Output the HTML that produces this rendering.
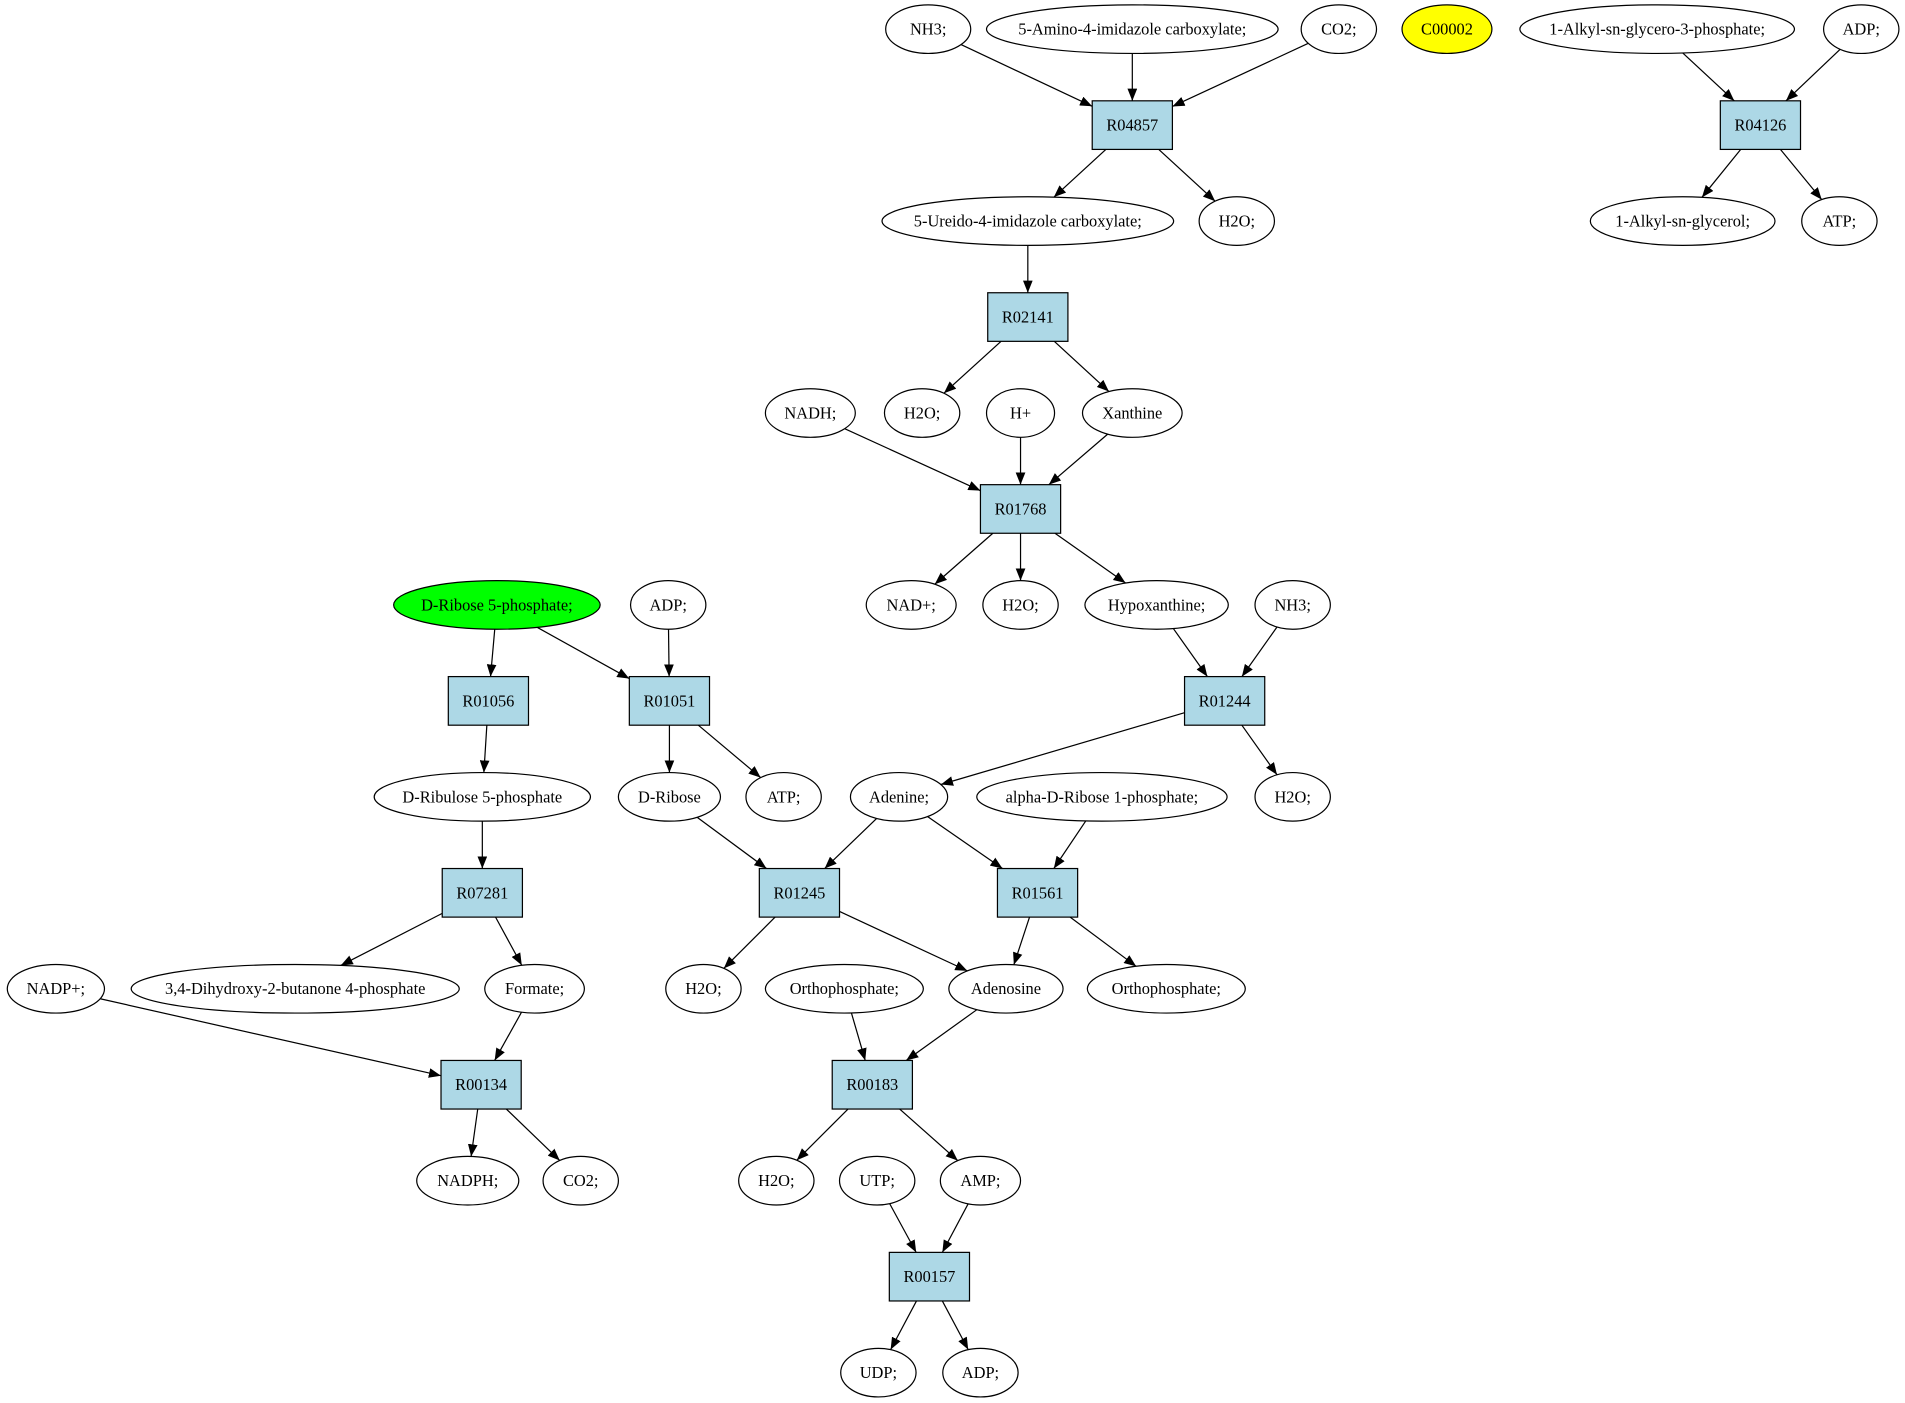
<!DOCTYPE html>
<html><head><meta charset="utf-8"><style>
html,body{margin:0;padding:0;background:#fff;}
svg{display:block;}
text{font-family:"Liberation Serif",serif;font-size:13.5px;}
</style></head><body>
<svg id="g" width="1905" height="1403" viewBox="0 0 1568 1155" preserveAspectRatio="none" xmlns="http://www.w3.org/2000/svg">
<defs><marker id="a" markerWidth="10" markerHeight="8" refX="10" refY="4" orient="auto" markerUnits="userSpaceOnUse"><path d="M0,0 L10,4 L0,8 z" fill="#000"/></marker></defs>
</svg>
<script>
var N={
nh3a:['e',764,24,35,'NH3;'],amino:['e',932,24,120,'5-Amino-4-imidazole carboxylate;'],co2a:['e',1102,24,31,'CO2;'],c2:['e',1191,24,37,'C00002','#ffff00'],
alk3p:['e',1364,24,113,'1-Alkyl-sn-glycero-3-phosphate;'],adp1:['e',1532,24,31,'ADP;'],
R04857:['b',932,103],R04126:['b',1449,103],
ureido:['e',846,182,120,'5-Ureido-4-imidazole carboxylate;'],h2o1:['e',1018,182,31,'H2O;'],alkg:['e',1385,182,76,'1-Alkyl-sn-glycerol;'],atp1:['e',1514,182,31,'ATP;'],
R02141:['b',846,261],
nadh:['e',667,340,37,'NADH;'],h2o2:['e',759,340,31,'H2O;'],hp:['e',840,340,28,'H+'],xan:['e',932,340,41,'Xanthine'],
R01768:['b',840,419],
dr5p:['e',409,498,85,'D-Ribose 5-phosphate;','#00ff00'],adp2:['e',550,498,31,'ADP;'],nad:['e',750,498,37,'NAD+;'],h2o3:['e',840,498,31,'H2O;'],hyp:['e',952,498,59,'Hypoxanthine;'],nh3b:['e',1064,498,31,'NH3;'],
R01056:['b',402,577],R01051:['b',551,577],R01244:['b',1008,577],
dru5p:['e',397,656,89,'D-Ribulose 5-phosphate'],drib:['e',551,656,42,'D-Ribose'],atp2:['e',645,656,31,'ATP;'],ade:['e',740,656,40,'Adenine;'],adr1p:['e',907,656,103,'alpha-D-Ribose 1-phosphate;'],h2o4:['e',1064,656,31,'H2O;'],
R07281:['b',397,735],R01245:['b',658,735],R01561:['b',854,735],
nadp:['e',46,814,40,'NADP+;'],dhb:['e',243,814,135,'3,4-Dihydroxy-2-butanone 4-phosphate'],form:['e',440,814,41,'Formate;'],h2o5:['e',579,814,31,'H2O;'],orth1:['e',695,814,65,'Orthophosphate;'],adeno:['e',828,814,47,'Adenosine'],orth2:['e',960,814,65,'Orthophosphate;'],
R00134:['b',396,893],R00183:['b',718,893],
nadph:['e',385,972,42,'NADPH;'],co2b:['e',478,972,31,'CO2;'],h2o6:['e',639,972,31,'H2O;'],utp:['e',722,972,31,'UTP;'],amp:['e',807,972,33,'AMP;'],
R00157:['b',765,1051],
udp:['e',723,1130,31,'UDP;'],adp3:['e',807,1130,31,'ADP;']};
var E=[['nh3a','R04857'],['amino','R04857'],['co2a','R04857'],['R04857','ureido'],['R04857','h2o1'],['alk3p','R04126'],['adp1','R04126'],['R04126','alkg'],['R04126','atp1'],
['ureido','R02141'],['R02141','h2o2'],['R02141','xan'],['nadh','R01768'],['hp','R01768'],['xan','R01768'],['R01768','nad'],['R01768','h2o3'],['R01768','hyp'],
['hyp','R01244'],['nh3b','R01244'],['dr5p','R01056'],['dr5p','R01051'],['adp2','R01051'],['R01244','ade'],['R01244','h2o4'],['R01056','dru5p'],['R01051','drib'],['R01051','atp2'],
['dru5p','R07281'],['drib','R01245'],['ade','R01245'],['ade','R01561'],['adr1p','R01561'],['R07281','dhb'],['R07281','form'],['R01245','h2o5'],['R01245','adeno'],['R01561','adeno'],['R01561','orth2'],
['nadp','R00134'],['form','R00134'],['orth1','R00183'],['adeno','R00183'],['R00134','nadph'],['R00134','co2b'],['R00183','h2o6'],['R00183','amp'],['utp','R00157'],['amp','R00157'],['R00157','udp'],['R00157','adp3']];
var RY=20,BW=33,BH=20,s='';
function clip(n,dx,dy){var d=Math.hypot(dx,dy),ux=dx/d,uy=dy/d,t;
 if(n[0]=='e'){t=1/Math.sqrt((ux*ux)/(n[3]*n[3])+(uy*uy)/(RY*RY));}
 else{t=Math.min(Math.abs(ux)>1e-9?BW/Math.abs(ux):1e9,Math.abs(uy)>1e-9?BH/Math.abs(uy):1e9);}
 return [n[1]+ux*t,n[2]+uy*t];}
E.forEach(function(e){var a=N[e[0]],b=N[e[1]],dx=b[1]-a[1],dy=b[2]-a[2];
 var p=clip(a,dx,dy),q=clip(b,-dx,-dy);
 s+='<line x1="'+p[0]+'" y1="'+p[1]+'" x2="'+q[0]+'" y2="'+q[1]+'" stroke="#000" stroke-width="1" marker-end="url(#a)"/>';});
for(var k in N){var n=N[k];
 if(n[0]=='e'){s+='<ellipse cx="'+n[1]+'" cy="'+n[2]+'" rx="'+n[3]+'" ry="'+RY+'" fill="'+(n[5]||'#fff')+'" stroke="#000"/>';
  s+='<text x="'+n[1]+'" y="'+(n[2]+4.5)+'" text-anchor="middle">'+n[4]+'</text>';}
 else{s+='<rect x="'+(n[1]-BW)+'" y="'+(n[2]-BH)+'" width="'+(2*BW)+'" height="'+(2*BH)+'" fill="#add8e6" stroke="#000"/>';
  s+='<text x="'+n[1]+'" y="'+(n[2]+4.5)+'" text-anchor="middle">'+k+'</text>';}}
document.getElementById('g').insertAdjacentHTML('beforeend',s);
</script>
</body></html>
